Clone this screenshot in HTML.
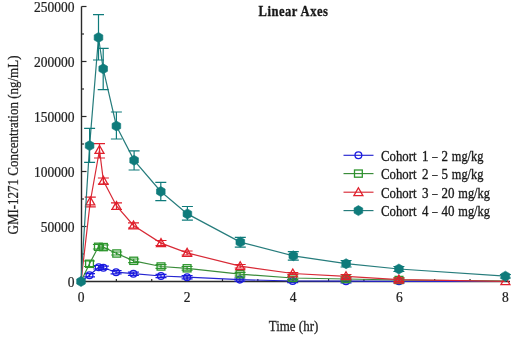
<!DOCTYPE html>
<html><head><meta charset="utf-8"><title>Linear Axes</title>
<style>html,body{margin:0;padding:0;background:#fff;width:520px;height:338px;overflow:hidden}svg{display:block}</style>
</head><body>
<svg width="520" height="338" viewBox="0 0 520 338" font-family="'Liberation Serif', 'Times New Roman', serif" fill="#1a1a1a" stroke-linecap="butt">
<path d="M81.5,6.5V281.5H510" stroke="#2a2a2a" stroke-width="1.4" fill="none"/>
<path d="M81.5,281.5h5" stroke="#2a2a2a" stroke-width="1.2"/>
<path d="M81.5,254.0h2.5" stroke="#2a2a2a" stroke-width="1.2"/>
<path d="M81.5,226.5h5" stroke="#2a2a2a" stroke-width="1.2"/>
<path d="M81.5,199.0h2.5" stroke="#2a2a2a" stroke-width="1.2"/>
<path d="M81.5,171.5h5" stroke="#2a2a2a" stroke-width="1.2"/>
<path d="M81.5,144.0h2.5" stroke="#2a2a2a" stroke-width="1.2"/>
<path d="M81.5,116.5h5" stroke="#2a2a2a" stroke-width="1.2"/>
<path d="M81.5,89.0h2.5" stroke="#2a2a2a" stroke-width="1.2"/>
<path d="M81.5,61.5h5" stroke="#2a2a2a" stroke-width="1.2"/>
<path d="M81.5,34.0h2.5" stroke="#2a2a2a" stroke-width="1.2"/>
<path d="M81.5,6.5h5" stroke="#2a2a2a" stroke-width="1.2"/>
<path d="M81.00,281.5v-5" stroke="#2a2a2a" stroke-width="1.2"/>
<path d="M116.37,281.5v-2.5" stroke="#2a2a2a" stroke-width="1.2"/>
<path d="M151.73,281.5v-2.5" stroke="#2a2a2a" stroke-width="1.2"/>
<path d="M187.10,281.5v-5" stroke="#2a2a2a" stroke-width="1.2"/>
<path d="M222.47,281.5v-2.5" stroke="#2a2a2a" stroke-width="1.2"/>
<path d="M257.83,281.5v-2.5" stroke="#2a2a2a" stroke-width="1.2"/>
<path d="M293.20,281.5v-5" stroke="#2a2a2a" stroke-width="1.2"/>
<path d="M328.57,281.5v-2.5" stroke="#2a2a2a" stroke-width="1.2"/>
<path d="M363.93,281.5v-2.5" stroke="#2a2a2a" stroke-width="1.2"/>
<path d="M399.30,281.5v-5" stroke="#2a2a2a" stroke-width="1.2"/>
<path d="M434.67,281.5v-2.5" stroke="#2a2a2a" stroke-width="1.2"/>
<path d="M470.03,281.5v-2.5" stroke="#2a2a2a" stroke-width="1.2"/>
<path d="M505.40,281.5v-5" stroke="#2a2a2a" stroke-width="1.2"/>
<polyline points="81,281.5 89.5,275.2 98.7,267.2 103.4,267.8 116.1,272.2 133.4,273.7 161,276 187.1,277.2 239.8,279.6 292.7,281 346,281.2 399,281.3 505.4,281.5" fill="none" stroke="#2525d0" stroke-width="1.2"/>
<path d="M89.5,273.59999999999997V276.8M84.00,273.59999999999997h11M84.00,276.8h11" stroke="#1a1ae0" stroke-width="1.2" fill="none"/>
<path d="M98.7,265.5V269M93.20,265.5h11M93.20,269h11" stroke="#1a1ae0" stroke-width="1.2" fill="none"/>
<path d="M103.4,266.2V269.40000000000003M97.90,266.2h11M97.90,269.40000000000003h11" stroke="#1a1ae0" stroke-width="1.2" fill="none"/>
<path d="M116.1,270.59999999999997V273.8M110.60,270.59999999999997h11M110.60,273.8h11" stroke="#1a1ae0" stroke-width="1.2" fill="none"/>
<path d="M133.4,272.09999999999997V275.3M127.90,272.09999999999997h11M127.90,275.3h11" stroke="#1a1ae0" stroke-width="1.2" fill="none"/>
<path d="M161,274.4V277.6M155.50,274.4h11M155.50,277.6h11" stroke="#1a1ae0" stroke-width="1.2" fill="none"/>
<path d="M187.1,275.59999999999997V278.8M181.60,275.59999999999997h11M181.60,278.8h11" stroke="#1a1ae0" stroke-width="1.2" fill="none"/>
<path d="M239.8,278.0V281.20000000000005M234.30,278.0h11M234.30,281.20000000000005h11" stroke="#1a1ae0" stroke-width="1.2" fill="none"/>
<path d="M292.7,279.4V282.6M287.20,279.4h11M287.20,282.6h11" stroke="#1a1ae0" stroke-width="1.2" fill="none"/>
<path d="M346,279.59999999999997V282.8M340.50,279.59999999999997h11M340.50,282.8h11" stroke="#1a1ae0" stroke-width="1.2" fill="none"/>
<path d="M399,279.7V282.90000000000003M393.50,279.7h11M393.50,282.90000000000003h11" stroke="#1a1ae0" stroke-width="1.2" fill="none"/>
<circle cx="89.5" cy="275.2" r="3.4" fill="none" stroke="#1a1ae0" stroke-width="1.3"/>
<circle cx="98.7" cy="267.2" r="3.4" fill="none" stroke="#1a1ae0" stroke-width="1.3"/>
<circle cx="103.4" cy="267.8" r="3.4" fill="none" stroke="#1a1ae0" stroke-width="1.3"/>
<circle cx="116.1" cy="272.2" r="3.4" fill="none" stroke="#1a1ae0" stroke-width="1.3"/>
<circle cx="133.4" cy="273.7" r="3.4" fill="none" stroke="#1a1ae0" stroke-width="1.3"/>
<circle cx="161" cy="276" r="3.4" fill="none" stroke="#1a1ae0" stroke-width="1.3"/>
<circle cx="187.1" cy="277.2" r="3.4" fill="none" stroke="#1a1ae0" stroke-width="1.3"/>
<circle cx="239.8" cy="279.6" r="3.4" fill="none" stroke="#1a1ae0" stroke-width="1.3"/>
<circle cx="292.7" cy="281" r="3.4" fill="none" stroke="#1a1ae0" stroke-width="1.3"/>
<circle cx="346" cy="281.2" r="3.4" fill="none" stroke="#1a1ae0" stroke-width="1.3"/>
<circle cx="399" cy="281.3" r="3.4" fill="none" stroke="#1a1ae0" stroke-width="1.3"/>
<polyline points="81,281.5 89.5,263.8 98.4,246.8 103.4,247.1 116.7,253.5 133.7,260.8 161,266.5 187.1,268.3 240.1,274.2 292.7,278 346,279 399,280 505.4,281" fill="none" stroke="#3a8c3a" stroke-width="1.2"/>
<path d="M89.5,261V266.5M84.00,261h11M84.00,266.5h11" stroke="#2c952c" stroke-width="1.2" fill="none"/>
<path d="M98.4,244.5V249M92.90,244.5h11M92.90,249h11" stroke="#2c952c" stroke-width="1.2" fill="none"/>
<path d="M103.4,245V249M97.90,245h11M97.90,249h11" stroke="#2c952c" stroke-width="1.2" fill="none"/>
<path d="M116.7,252V255M111.20,252h11M111.20,255h11" stroke="#2c952c" stroke-width="1.2" fill="none"/>
<path d="M133.7,259.0V262.6M128.20,259.0h11M128.20,262.6h11" stroke="#2c952c" stroke-width="1.2" fill="none"/>
<path d="M161,264.7V268.3M155.50,264.7h11M155.50,268.3h11" stroke="#2c952c" stroke-width="1.2" fill="none"/>
<path d="M187.1,266.5V270.1M181.60,266.5h11M181.60,270.1h11" stroke="#2c952c" stroke-width="1.2" fill="none"/>
<path d="M240.1,272.4V276.0M234.60,272.4h11M234.60,276.0h11" stroke="#2c952c" stroke-width="1.2" fill="none"/>
<path d="M292.7,276.2V279.8M287.20,276.2h11M287.20,279.8h11" stroke="#2c952c" stroke-width="1.2" fill="none"/>
<path d="M346,277.2V280.8M340.50,277.2h11M340.50,280.8h11" stroke="#2c952c" stroke-width="1.2" fill="none"/>
<path d="M399,278.2V281.8M393.50,278.2h11M393.50,281.8h11" stroke="#2c952c" stroke-width="1.2" fill="none"/>
<rect x="85.60" y="260.20" width="7.8" height="7.2" fill="none" stroke="#2c952c" stroke-width="1.3"/>
<rect x="94.50" y="243.20" width="7.8" height="7.2" fill="none" stroke="#2c952c" stroke-width="1.3"/>
<rect x="99.50" y="243.50" width="7.8" height="7.2" fill="none" stroke="#2c952c" stroke-width="1.3"/>
<rect x="112.80" y="249.90" width="7.8" height="7.2" fill="none" stroke="#2c952c" stroke-width="1.3"/>
<rect x="129.80" y="257.20" width="7.8" height="7.2" fill="none" stroke="#2c952c" stroke-width="1.3"/>
<rect x="157.10" y="262.90" width="7.8" height="7.2" fill="none" stroke="#2c952c" stroke-width="1.3"/>
<rect x="183.20" y="264.70" width="7.8" height="7.2" fill="none" stroke="#2c952c" stroke-width="1.3"/>
<rect x="236.20" y="270.60" width="7.8" height="7.2" fill="none" stroke="#2c952c" stroke-width="1.3"/>
<rect x="288.80" y="274.40" width="7.8" height="7.2" fill="none" stroke="#2c952c" stroke-width="1.3"/>
<rect x="342.10" y="275.40" width="7.8" height="7.2" fill="none" stroke="#2c952c" stroke-width="1.3"/>
<rect x="395.10" y="276.40" width="7.8" height="7.2" fill="none" stroke="#2c952c" stroke-width="1.3"/>
<polyline points="81,281.5 90.3,201.5 99.5,150 103.4,180.9 116.5,206 133.5,225.5 161,243.1 187.1,252.9 240.2,266.2 292.8,273.5 346,276.3 398.9,279.6 505.4,281.3" fill="none" stroke="#d82a36" stroke-width="1.2"/>
<path d="M90.3,197.1V206.9M84.80,197.1h11M84.80,206.9h11" stroke="#e0202c" stroke-width="1.2" fill="none"/>
<path d="M99.5,143.6V158M94.00,143.6h11M94.00,158h11" stroke="#e0202c" stroke-width="1.2" fill="none"/>
<path d="M103.4,178V184M97.90,178h11M97.90,184h11" stroke="#e0202c" stroke-width="1.2" fill="none"/>
<path d="M116.5,202.8V209.5M111.00,202.8h11M111.00,209.5h11" stroke="#e0202c" stroke-width="1.2" fill="none"/>
<path d="M133.5,222.9V228M128.00,222.9h11M128.00,228h11" stroke="#e0202c" stroke-width="1.2" fill="none"/>
<path d="M161,240.5V245.5M155.50,240.5h11M155.50,245.5h11" stroke="#e0202c" stroke-width="1.2" fill="none"/>
<path d="M187.1,251V255M181.60,251h11M181.60,255h11" stroke="#e0202c" stroke-width="1.2" fill="none"/>
<path d="M240.2,264.5V268M234.70,264.5h11M234.70,268h11" stroke="#e0202c" stroke-width="1.2" fill="none"/>
<path d="M292.8,272.5V274.5M287.30,272.5h11M287.30,274.5h11" stroke="#e0202c" stroke-width="1.2" fill="none"/>
<path d="M346,274.5V278.1M340.50,274.5h11M340.50,278.1h11" stroke="#e0202c" stroke-width="1.2" fill="none"/>
<path d="M398.9,277.8V281.40000000000003M393.40,277.8h11M393.40,281.40000000000003h11" stroke="#e0202c" stroke-width="1.2" fill="none"/>
<polygon points="90.30,197.00 94.80,204.90 85.80,204.90" fill="none" stroke="#e0202c" stroke-width="1.3"/>
<polygon points="99.50,145.50 104.00,153.40 95.00,153.40" fill="none" stroke="#e0202c" stroke-width="1.3"/>
<polygon points="103.40,176.40 107.90,184.30 98.90,184.30" fill="none" stroke="#e0202c" stroke-width="1.3"/>
<polygon points="116.50,201.50 121.00,209.40 112.00,209.40" fill="none" stroke="#e0202c" stroke-width="1.3"/>
<polygon points="133.50,221.00 138.00,228.90 129.00,228.90" fill="none" stroke="#e0202c" stroke-width="1.3"/>
<polygon points="161.00,238.60 165.50,246.50 156.50,246.50" fill="none" stroke="#e0202c" stroke-width="1.3"/>
<polygon points="187.10,248.40 191.60,256.30 182.60,256.30" fill="none" stroke="#e0202c" stroke-width="1.3"/>
<polygon points="240.20,261.70 244.70,269.60 235.70,269.60" fill="none" stroke="#e0202c" stroke-width="1.3"/>
<polygon points="292.80,269.00 297.30,276.90 288.30,276.90" fill="none" stroke="#e0202c" stroke-width="1.3"/>
<polygon points="346.00,271.80 350.50,279.70 341.50,279.70" fill="none" stroke="#e0202c" stroke-width="1.3"/>
<polygon points="398.90,275.10 403.40,283.00 394.40,283.00" fill="none" stroke="#e0202c" stroke-width="1.3"/>
<polygon points="505.40,276.80 509.90,284.70 500.90,284.70" fill="none" stroke="#e0202c" stroke-width="1.3"/>
<polyline points="81,281.5 89.6,145.6 98.5,37.5 103.2,68.8 116.4,126 134.1,160.3 160.8,191.5 187.4,213.9 240.3,242.1 293.3,255.8 346.1,263.7 398.9,269 505.4,276.2" fill="none" stroke="#267c7c" stroke-width="1.2"/>
<path d="M89.6,128.4V162.3M84.10,128.4h11M84.10,162.3h11" stroke="#0f7b7b" stroke-width="1.2" fill="none"/>
<path d="M98.5,14.7V60M93.00,14.7h11M93.00,60h11" stroke="#0f7b7b" stroke-width="1.2" fill="none"/>
<path d="M103.2,48.3V89.7M97.70,48.3h11M97.70,89.7h11" stroke="#0f7b7b" stroke-width="1.2" fill="none"/>
<path d="M116.4,112V139M110.90,112h11M110.90,139h11" stroke="#0f7b7b" stroke-width="1.2" fill="none"/>
<path d="M134.1,150.8V170M128.60,150.8h11M128.60,170h11" stroke="#0f7b7b" stroke-width="1.2" fill="none"/>
<path d="M160.8,182.4V200.7M155.30,182.4h11M155.30,200.7h11" stroke="#0f7b7b" stroke-width="1.2" fill="none"/>
<path d="M187.4,206.5V220.1M181.90,206.5h11M181.90,220.1h11" stroke="#0f7b7b" stroke-width="1.2" fill="none"/>
<path d="M240.3,237.3V247.2M234.80,237.3h11M234.80,247.2h11" stroke="#0f7b7b" stroke-width="1.2" fill="none"/>
<path d="M293.3,251.7V260.1M287.80,251.7h11M287.80,260.1h11" stroke="#0f7b7b" stroke-width="1.2" fill="none"/>
<path d="M346.1,260.5V267M340.60,260.5h11M340.60,267h11" stroke="#0f7b7b" stroke-width="1.2" fill="none"/>
<path d="M398.9,266.5V271.5M393.40,266.5h11M393.40,271.5h11" stroke="#0f7b7b" stroke-width="1.2" fill="none"/>
<path d="M505.4,274.5V278M499.90,274.5h11M499.90,278h11" stroke="#0f7b7b" stroke-width="1.2" fill="none"/>
<polygon points="81.00,276.50 76.67,279.00 76.67,284.00 81.00,286.50 85.33,284.00 85.33,279.00" fill="#0f7b7b" stroke="#0f7b7b" stroke-width="0.6"/>
<polygon points="89.60,140.60 85.27,143.10 85.27,148.10 89.60,150.60 93.93,148.10 93.93,143.10" fill="#0f7b7b" stroke="#0f7b7b" stroke-width="0.6"/>
<polygon points="98.50,32.50 94.17,35.00 94.17,40.00 98.50,42.50 102.83,40.00 102.83,35.00" fill="#0f7b7b" stroke="#0f7b7b" stroke-width="0.6"/>
<polygon points="103.20,63.80 98.87,66.30 98.87,71.30 103.20,73.80 107.53,71.30 107.53,66.30" fill="#0f7b7b" stroke="#0f7b7b" stroke-width="0.6"/>
<polygon points="116.40,121.00 112.07,123.50 112.07,128.50 116.40,131.00 120.73,128.50 120.73,123.50" fill="#0f7b7b" stroke="#0f7b7b" stroke-width="0.6"/>
<polygon points="134.10,155.30 129.77,157.80 129.77,162.80 134.10,165.30 138.43,162.80 138.43,157.80" fill="#0f7b7b" stroke="#0f7b7b" stroke-width="0.6"/>
<polygon points="160.80,186.50 156.47,189.00 156.47,194.00 160.80,196.50 165.13,194.00 165.13,189.00" fill="#0f7b7b" stroke="#0f7b7b" stroke-width="0.6"/>
<polygon points="187.40,208.90 183.07,211.40 183.07,216.40 187.40,218.90 191.73,216.40 191.73,211.40" fill="#0f7b7b" stroke="#0f7b7b" stroke-width="0.6"/>
<polygon points="240.30,237.10 235.97,239.60 235.97,244.60 240.30,247.10 244.63,244.60 244.63,239.60" fill="#0f7b7b" stroke="#0f7b7b" stroke-width="0.6"/>
<polygon points="293.30,250.80 288.97,253.30 288.97,258.30 293.30,260.80 297.63,258.30 297.63,253.30" fill="#0f7b7b" stroke="#0f7b7b" stroke-width="0.6"/>
<polygon points="346.10,258.70 341.77,261.20 341.77,266.20 346.10,268.70 350.43,266.20 350.43,261.20" fill="#0f7b7b" stroke="#0f7b7b" stroke-width="0.6"/>
<polygon points="398.90,264.00 394.57,266.50 394.57,271.50 398.90,274.00 403.23,271.50 403.23,266.50" fill="#0f7b7b" stroke="#0f7b7b" stroke-width="0.6"/>
<polygon points="505.40,271.20 501.07,273.70 501.07,278.70 505.40,281.20 509.73,278.70 509.73,273.70" fill="#0f7b7b" stroke="#0f7b7b" stroke-width="0.6"/>
<g fill="#222" stroke="#222" stroke-width="0.22"><text transform="translate(74.5,11.8) scale(1,1.04)" text-anchor="end" font-size="13.5">250000</text>
<text transform="translate(74.5,66.8) scale(1,1.04)" text-anchor="end" font-size="13.5">200000</text>
<text transform="translate(74.5,121.8) scale(1,1.04)" text-anchor="end" font-size="13.5">150000</text>
<text transform="translate(74.5,176.8) scale(1,1.04)" text-anchor="end" font-size="13.5">100000</text>
<text transform="translate(74.5,231.8) scale(1,1.04)" text-anchor="end" font-size="13.5">50000</text>
<text transform="translate(74.5,286.8) scale(1,1.04)" text-anchor="end" font-size="13.5">0</text>
<text transform="translate(81.0,301.5) scale(1,1.04)" text-anchor="middle" font-size="13.5">0</text>
<text transform="translate(187.1,301.5) scale(1,1.04)" text-anchor="middle" font-size="13.5">2</text>
<text transform="translate(293.2,301.5) scale(1,1.04)" text-anchor="middle" font-size="13.5">4</text>
<text transform="translate(399.3,301.5) scale(1,1.04)" text-anchor="middle" font-size="13.5">6</text>
<text transform="translate(505.4,301.5) scale(1,1.04)" text-anchor="middle" font-size="13.5">8</text>
<text transform="translate(293.5,331.3) scale(1,1.15)" text-anchor="middle" font-size="13">Time (hr)</text>
<text transform="translate(17.8,145) rotate(-90) scale(1,1.15)" text-anchor="middle" font-size="13">GMI-1271 Concentration (ng/mL)</text></g>
<text transform="translate(258.5,16.0) scale(1,1.08)" font-size="12.6" font-weight="bold" letter-spacing="0.5" stroke="#111" stroke-width="0.25">Linear Axes</text>
<path d="M343.5,155.3H373.5" stroke="#2525d0" stroke-width="1.15"/>
<circle cx="358.4" cy="155.3" r="3.4" fill="none" stroke="#1a1ae0" stroke-width="1.3"/>
<g transform="translate(0,160.7) scale(1,1.15)" font-size="13" stroke="#1a1a1a" stroke-width="0.3"><text x="381" textLength="35.5" lengthAdjust="spacingAndGlyphs">Cohort</text><text x="422">1</text><text x="432.2" textLength="5.2" lengthAdjust="spacingAndGlyphs">–</text><text x="441.4">2</text><text x="451.8" textLength="31.6" lengthAdjust="spacingAndGlyphs">mg/kg</text></g>
<path d="M343.5,173.6H373.5" stroke="#3a8c3a" stroke-width="1.15"/>
<rect x="354.50" y="170.00" width="7.8" height="7.2" fill="none" stroke="#2c952c" stroke-width="1.3"/>
<g transform="translate(0,179.0) scale(1,1.15)" font-size="13" stroke="#1a1a1a" stroke-width="0.3"><text x="381" textLength="35.5" lengthAdjust="spacingAndGlyphs">Cohort</text><text x="422">2</text><text x="432.2" textLength="5.2" lengthAdjust="spacingAndGlyphs">–</text><text x="441.4">5</text><text x="451.8" textLength="31.6" lengthAdjust="spacingAndGlyphs">mg/kg</text></g>
<path d="M343.5,192.2H373.5" stroke="#d82a36" stroke-width="1.15"/>
<polygon points="358.40,187.70 362.90,195.60 353.90,195.60" fill="none" stroke="#e0202c" stroke-width="1.3"/>
<g transform="translate(0,197.6) scale(1,1.15)" font-size="13" stroke="#1a1a1a" stroke-width="0.3"><text x="381" textLength="35.5" lengthAdjust="spacingAndGlyphs">Cohort</text><text x="422">3</text><text x="432.2" textLength="5.2" lengthAdjust="spacingAndGlyphs">–</text><text x="441.4">20</text><text x="458.3" textLength="31.6" lengthAdjust="spacingAndGlyphs">mg/kg</text></g>
<path d="M343.5,210.6H373.5" stroke="#267c7c" stroke-width="1.15"/>
<polygon points="358.40,205.60 354.07,208.10 354.07,213.10 358.40,215.60 362.73,213.10 362.73,208.10" fill="#0f7b7b" stroke="#0f7b7b" stroke-width="0.6"/>
<g transform="translate(0,216.0) scale(1,1.15)" font-size="13" stroke="#1a1a1a" stroke-width="0.3"><text x="381" textLength="35.5" lengthAdjust="spacingAndGlyphs">Cohort</text><text x="422">4</text><text x="432.2" textLength="5.2" lengthAdjust="spacingAndGlyphs">–</text><text x="441.4">40</text><text x="458.3" textLength="31.6" lengthAdjust="spacingAndGlyphs">mg/kg</text></g>
</svg>
</body></html>
